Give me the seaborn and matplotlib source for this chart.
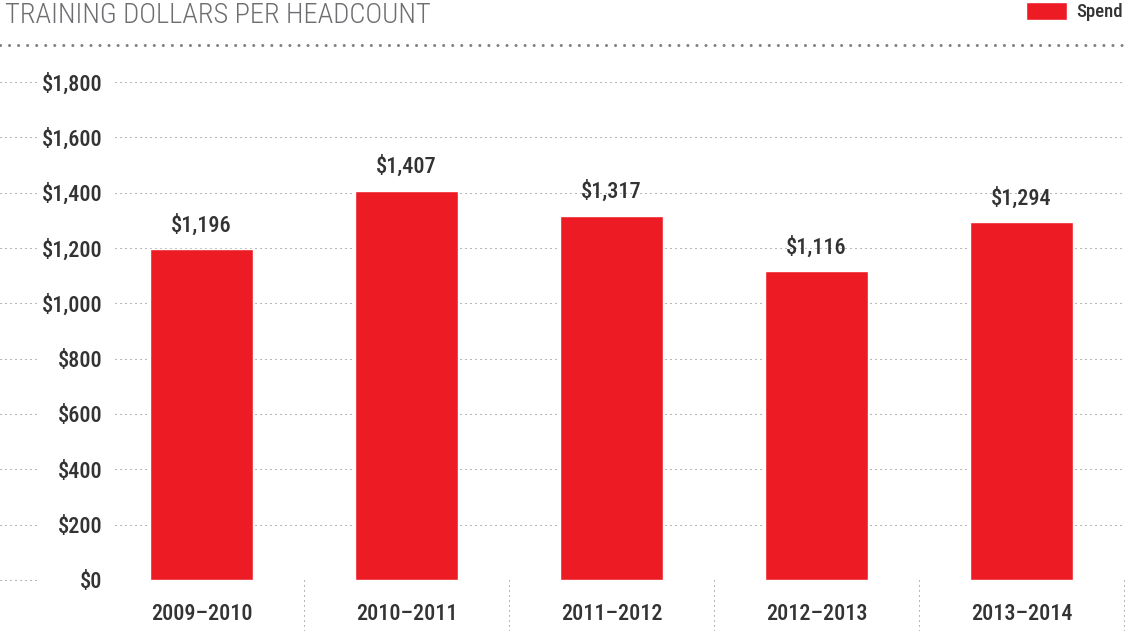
import matplotlib
matplotlib.use("Agg")
import matplotlib.pyplot as plt
import matplotlib.transforms as mtransforms
from matplotlib import font_manager
import seaborn as sns
import pandas as pd

# ---- data ----
periods = ["2009\u20132010", "2010\u20132011", "2011\u20132012", "2012\u20132013", "2013\u20132014"]
spend = [1196, 1407, 1317, 1116, 1294]
y_ticks = [0, 200, 400, 600, 800, 1000, 1200, 1400, 1600, 1800]
title = "TRAINING DOLLARS PER HEADCOUNT"
series_name = "Spend"

BAR = "#ed1c24"
TXT = "#333333"
GRID = "#7a7a7a"

sns.set_theme(style="white")
names = {f.name for f in font_manager.fontManager.ttflist}
FONT = "Roboto Condensed" if "Roboto Condensed" in names else "Roboto"
plt.rcParams["font.family"] = [FONT, "DejaVu Sans"]
WT = "medium"

df = pd.DataFrame({"period": periods, "spend": spend})

W, H = 1125, 631
fig = plt.figure(figsize=(W / 100, H / 100), dpi=100)
ax = fig.add_axes([99 / W, 51 / H, 1025 / W, 498 / H])

sns.barplot(data=df, x="period", y="spend", color=BAR, saturation=1,
            width=0.5, ax=ax, label=series_name)

ax.set_xlim(-0.5, len(periods) - 0.5)
ax.set_ylim(0, 1800)
ax.set_yticks(y_ticks)
ax.set_yticklabels([f"${v:,}" for v in y_ticks])
ax.set_xlabel("")
ax.set_ylabel("")
for s in ax.spines.values():
    s.set_visible(False)
ax.tick_params(axis="y", length=0, pad=-2.2, labelsize=16, labelcolor=TXT)
ax.tick_params(axis="x", length=0, pad=16.5, labelsize=16, labelcolor=TXT)
for t in ax.get_xticklabels() + ax.get_yticklabels():
    t.set_fontweight(WT)
ax.set_facecolor("none")

# dotted gridlines (gap around y labels)
gstart = (115 - 99) / 1025
fig_y = mtransforms.blended_transform_factory(fig.transFigure, ax.transData)
for v in y_ticks:
    ax.axhline(v, xmin=gstart, xmax=1, color=GRID, lw=0.75,
               ls=(0, (1, 3.8)), zorder=0)
    ax.plot([0, 37 / W], [v, v], transform=fig_y, color=GRID, lw=0.75,
            ls=(0, (1, 3.8)), clip_on=False, zorder=0)

# vertical separators below axis
sep_tr = mtransforms.blended_transform_factory(ax.transData, fig.transFigure)
for i in range(1, len(periods) + 1):
    x = i - 0.5
    ax.plot([x, x], [0, 51 / H], transform=sep_tr, color=GRID, lw=0.75,
            ls=(0, (1, 3.8)), clip_on=False)

# value labels
ax.bar_label(ax.containers[0], labels=[f"${v:,}" for v in spend],
             padding=9, fontsize=16, color=TXT, fontweight=WT)

# title and dotted rule
fig.text(5 / W, 1 - 2 / H, title, ha="left", va="top", fontsize=20.5,
         color="#6d6e71", fontweight="light")
fig.add_artist(plt.Line2D([0, 1], [1 - 45 / H, 1 - 45 / H], transform=fig.transFigure,
                          color="#808080", lw=2.2, ls=(0, (0.01, 2.95)),
                          dash_capstyle="round"))

# legend
h, l = ax.get_legend_handles_labels()
leg = fig.legend(h[:1], l[:1], loc="upper right", bbox_to_anchor=(1123 / W, 1 - 2 / H),
                 frameon=False, fontsize=13.5, handlelength=2.2, handleheight=1.1,
                 handletextpad=0.5, borderpad=0, borderaxespad=0)
for t in leg.get_texts():
    t.set_color(TXT)
    t.set_fontweight(WT)
if ax.get_legend() is not None:
    ax.get_legend().remove()

fig.savefig("out.png", dpi=100, facecolor="white")
